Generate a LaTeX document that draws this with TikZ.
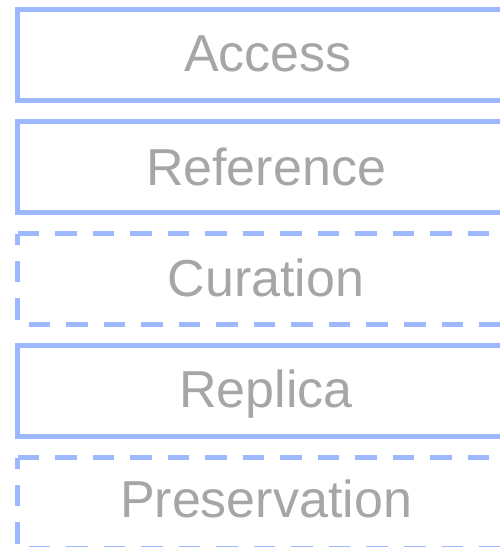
\documentclass[tikz,border=0pt]{standalone}
\usepackage{fontspec}
\setmainfont{Liberation Sans}
\definecolor{layerblue}{RGB}{158,184,255}
\definecolor{labelgrey}{RGB}{166,166,166}
\tikzset{
  layer/.style={draw=layerblue, line width=5bp},
  openlayer/.style={layer, dash pattern=on 21.5bp off 16bp},
  layerlabel/.style={text=labelgrey, anchor=base, inner sep=0pt,
    font=\fontsize{52bp}{60bp}\selectfont},
}
\begin{document}
\begin{tikzpicture}[x=1bp,y=-1bp]
  \useasboundingbox (0,0) rectangle (500,547);
  % stack of layers, each 91 tall, 112 apart
  \draw[layer]     (17.5,9.5)   -- (513.5,9.5)   -- (513.5,100.5) -- (17.5,100.5) -- cycle;
  \draw[layer]     (17.5,121.5) -- (513.5,121.5) -- (513.5,212.5) -- (17.5,212.5) -- cycle;
  \draw[openlayer] (17.5,233.5) -- (513.5,233.5) -- (513.5,324.5) -- (17.5,324.5) -- cycle;
  \draw[layer]     (17.5,345.5) -- (513.5,345.5) -- (513.5,436.5) -- (17.5,436.5) -- cycle;
  \draw[openlayer] (17.5,457.5) -- (513.5,457.5) -- (513.5,548.5) -- (17.5,548.5) -- cycle;
  % labels
  \node[layerlabel] (access)       at (268,71.5)  {Access};
  \node[layerlabel] (reference)    at (266,185.5) {Reference};
  \node[layerlabel] (curation)     at (266,296)   {Curation};
  \node[layerlabel] (replica)      at (266,407.5) {Replica};
  \node[layerlabel] (preservation) at (266,517)   {Preservation};
\end{tikzpicture}
\end{document}
